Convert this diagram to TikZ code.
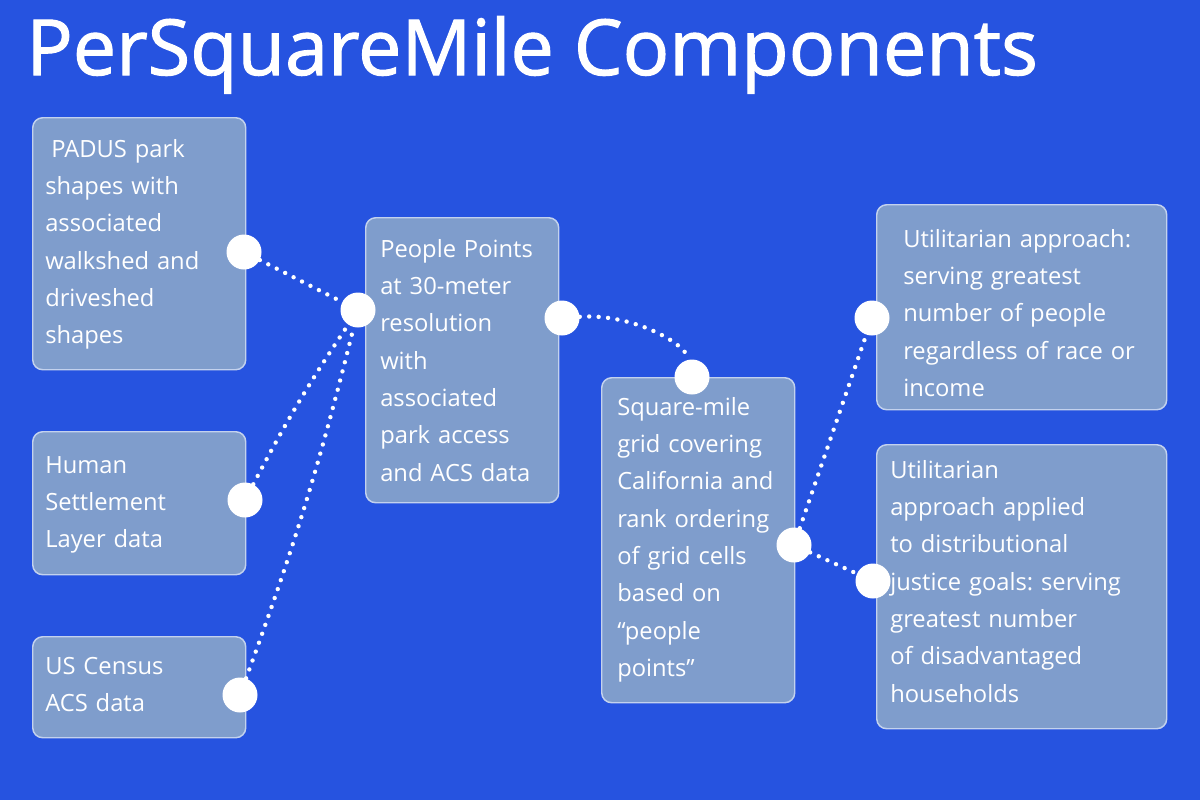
\documentclass[tikz,border=0pt]{standalone}
\usepackage{fontspec}
\setmainfont{Open Sans}
\newfontfamily\titlefont[FakeBold=1.4]{Open Sans}
\frenchspacing
\definecolor{bgblue}{HTML}{2653E0}
\definecolor{boxfill}{HTML}{7F9DCC}
\definecolor{boxline}{HTML}{C3D2EE}
\tikzset{
  panel/.style={draw=boxline, line width=1.1pt, fill=boxfill, rounded corners=7.5pt, inner sep=0pt, anchor=north west},
  paneltext/.style={anchor=base west, inner sep=0pt, text=white, text width=240pt, align=left, font=\fontsize{17.8pt}{28pt}\selectfont},
  knob/.style={circle, fill=white, minimum size=26.25pt, inner sep=0pt},
  dotline/.style={white, line width=3.3pt, line cap=round, dash pattern=on 0pt off 7.1pt}
}
\begin{document}
\begin{tikzpicture}[x=0.75pt,y=0.75pt,yscale=-1,xscale=1]
\useasboundingbox (0,0) rectangle (1200,800);
\fill[bgblue] (0,0) rectangle (1200,800);

% Title
\node (title) [anchor=base west, inner sep=0pt, text=white, font=\titlefont\fontsize{58pt}{60pt}\selectfont] at (26,75) {PerSquareMile Components};

%Shape: Rounded Rectangles
\node (padus) [panel, minimum width=159.75pt, minimum height=189pt] at (32,117) {};
\node (settle) [panel, minimum width=159.75pt, minimum height=107.25pt] at (32,431) {};
\node (census) [panel, minimum width=159.75pt, minimum height=75.75pt] at (32,636) {};
\node (points) [panel, minimum width=144.75pt, minimum height=213.75pt] at (365,217) {};
\node (grid) [panel, minimum width=144.75pt, minimum height=243.75pt] at (601,377) {};
\node (util) [panel, minimum width=217.5pt, minimum height=153.75pt] at (876,204) {};
\node (justice) [panel, minimum width=217.5pt, minimum height=213pt] at (876,444) {};

% Text Node
\node (padusText) [paneltext] at (45,157) {\hspace*{4.5pt}PADUS park\\shapes with\\associated\\walkshed and\\driveshed\\shapes};
% Text Node
\node (settleText) [paneltext] at (45,473) {Human\\Settlement\\Layer data};
% Text Node
\node (censusText) [paneltext] at (45,674) {US Census\\ACS data};
% Text Node
\node (pointsText) [paneltext] at (380,257) {People Points\\at 30-meter\\resolution\\with\\associated\\park access\\and ACS data};
% Text Node
\node (gridText) [paneltext] at (617,415) {Square-mile\\grid covering\\California and\\rank ordering\\of grid cells\\based on\\“people\\points”};
% Text Node
\node (utilText) [paneltext] at (903,247) {Utilitarian approach:\\serving greatest\\number of people\\regardless of race or\\income};
% Text Node
\node (justiceText) [paneltext] at (890,478) {Utilitarian\\approach applied\\to distributional\\justice goals: serving\\greatest number\\of disadvantaged\\households};

%Shape: Circles
\node (padusKnob) [knob] at (244,252) {};
\node (pointsInKnob) [knob] at (358,310) {};
\node (settleKnob) [knob] at (245,500) {};
\node (censusKnob) [knob] at (240,695) {};
\node (pointsOutKnob) [knob] at (562,318) {};
\node (gridTopKnob) [knob] at (692,377) {};
\node (gridOutKnob) [knob] at (794,545) {};
\node (utilKnob) [knob] at (872,318) {};
\node (justiceKnob) [knob] at (873,581) {};

%Dotted Lines
\draw [dotline] (padusKnob) -- (pointsInKnob);
\draw [dotline] (settleKnob) to[bend right=3] (pointsInKnob);
\draw [dotline] (censusKnob) to[bend left=3] (pointsInKnob);
\draw [dotline] (pointsOutKnob) to[out=-8,in=-95] (gridTopKnob);
\draw [dotline] (gridOutKnob) -- (utilKnob);
\draw [dotline] (gridOutKnob) -- (justiceKnob);

\end{tikzpicture}
\end{document}
